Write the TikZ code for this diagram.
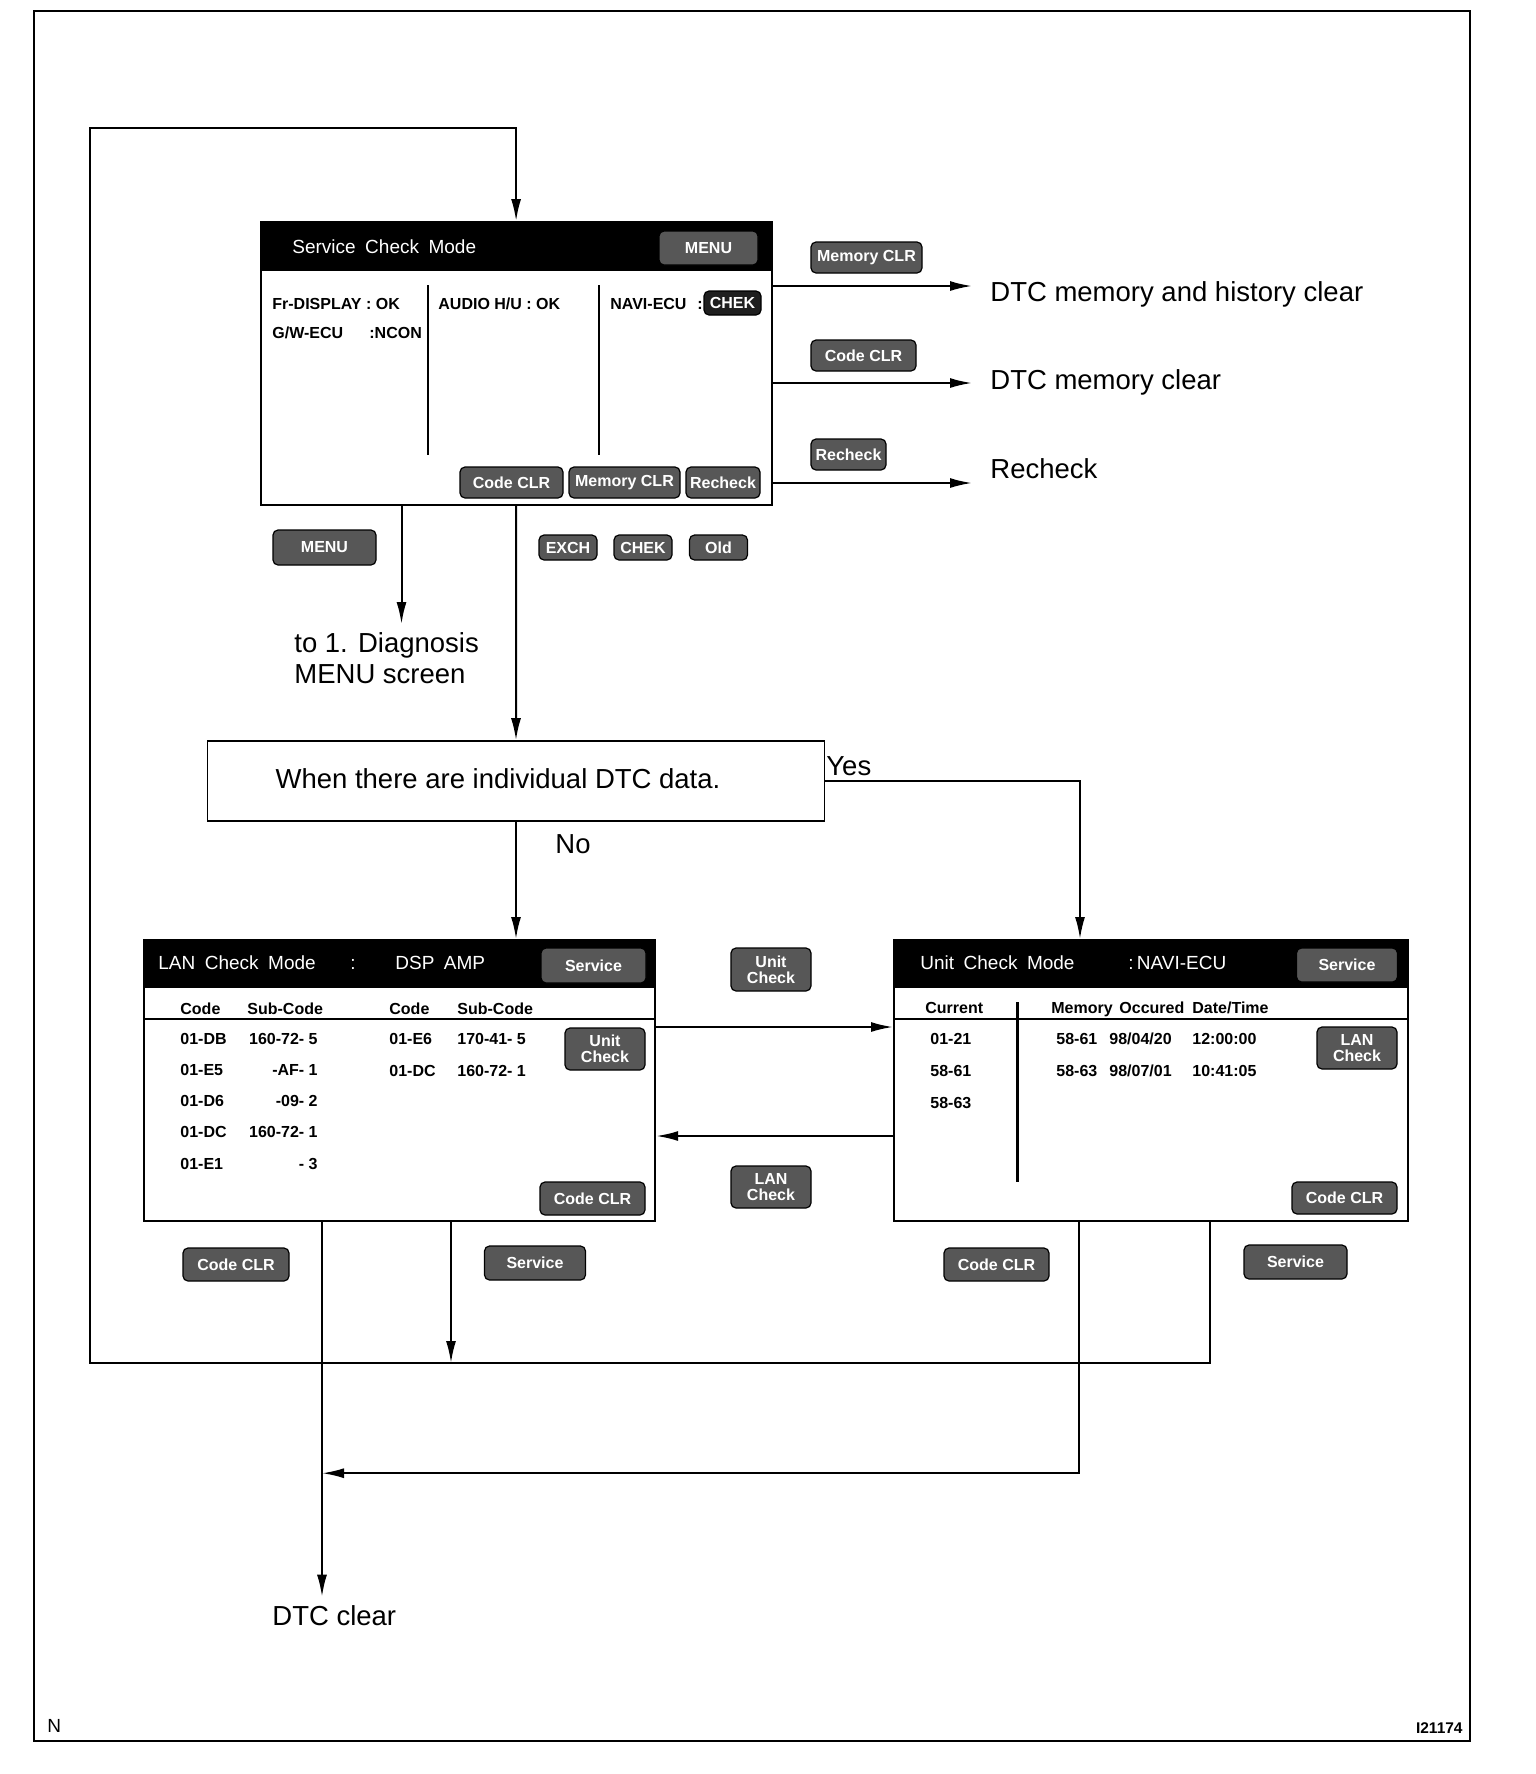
\documentclass[tikz,border=0pt]{standalone}
\usepackage{fontspec}
\setmainfont{Liberation Sans}
\usetikzlibrary{arrows.meta,positioning}

\tikzset{
  screen/.style={draw, line width=1.1pt, inner sep=0pt, anchor=north west},
  btn/.style={draw=black, line width=0.6pt, fill=black!66, rounded corners=2.5pt,
      text=white, font=\bfseries\fontsize{8}{8}\selectfont, inner sep=0pt, align=center},
  darkbtn/.style={btn, fill=black!88},
  hdr/.style={text=white, font={\fontsize{9.5}{11}\selectfont\spaceskip=0.5em plus 0.1em\relax},
      inner sep=0pt, anchor=base west},
  scr/.style={font=\bfseries\fontsize{8}{9.6}\selectfont, inner sep=0pt, anchor=base west},
  lbl/.style={font=\fontsize{13.75}{15.5}\selectfont, inner xsep=0pt, inner ysep=4pt},
  rlbl/.style={lbl, inner xsep=9pt, anchor=base west},
  conn/.style={line width=1pt},
  arr/.style={conn, -{Latex[length=11pt,width=5pt]}},
}

\begin{document}
\begin{tikzpicture}[x=0.5pt, y=-0.5pt]
\useasboundingbox (0,0) rectangle (1536,1774);
\draw[line width=1.4pt] (34,11) rectangle (1470,1741);
\node[anchor=base west, inner sep=0pt, font=\fontsize{9.5}{11}\selectfont] (nmark) at (47,1732) {N};
\node[anchor=base east, inner sep=0pt, font=\bfseries\fontsize{7.75}{9}\selectfont] (figno) at (1463,1733) {I21174};

% service check mode screen
\node[screen, minimum width=255.5pt, minimum height=141.5pt] (svc) at (259.5,221) {};
\fill (svc.north west) rectangle ([yshift=-25pt]svc.north east);
\node[hdr] (svctitle) at (292,253) {Service Check Mode};
\node[btn, minimum width=49.5pt, minimum height=17pt] (svcmenu) at (708.5,248) {MENU};
\draw[line width=1pt] (428,285) -- (428,455) (599,285) -- (599,455);
\node[scr] (frdisp) at (272,309) {Fr-DISPLAY : OK};
\node[scr] (gwecu) at (272,338) {G/W-ECU};
\node[scr] (gwstat) at (369,338) {:NCON};
\node[scr] (audio) at (438,309) {AUDIO H/U : OK};
\node[scr] (navi) at (610,309) {NAVI-ECU};
\node[scr] (navicol) at (697,309) {:};
\node[darkbtn, minimum width=28.5pt, minimum height=12pt] (navichek) at (732.5,303) {CHEK};
\node[btn, minimum width=51.5pt, minimum height=15.5pt] (svccode) at (511.5,482.5) {Code CLR};
\node[btn, minimum width=55.5pt, minimum height=15.5pt] (svcmem) at (624.5,482.5) {Memory CLR};
\node[btn, minimum width=37pt, minimum height=15.5pt] (svcrech) at (723,482.5) {Recheck};

% results to the right
\node[rlbl] (histclr) at (972,301) {DTC memory and history clear};
\node[rlbl] (memclr) at (972,389) {DTC memory clear};
\node[rlbl] (rechk) at (972,478) {Recheck};
\coordinate (r1) at ([yshift=-32.5pt]svc.north east);
\coordinate (r2) at ([yshift=-81pt]svc.north east);
\coordinate (r3) at ([yshift=-131pt]svc.north east);
\draw[arr] (r1) -- (r1 -| histclr.west);
\draw[arr] (r2) -- (r2 -| memclr.west);
\draw[arr] (r3) -- (r3 -| rechk.west);
\node[btn, minimum width=55.5pt, minimum height=15.5pt] (memkey) at (866.5,257.5) {Memory CLR};
\node[btn, minimum width=52.5pt, minimum height=15.5pt] (codekey) at (863.5,355.5) {Code CLR};
\node[btn, minimum width=37.5pt, minimum height=15.5pt] (rechkey) at (848.5,454.5) {Recheck};

% down from the service screen
\node[btn, minimum width=51.5pt, minimum height=17.5pt] (menukey) at (324.5,547.5) {MENU};
\node[lbl, anchor=north west, align=left] (diag) at (294,624) {to 1. Diagnosis\\MENU screen};
\coordinate (menudrop) at ([xshift=71pt]svc.south west);
\draw[arr] (menudrop) -- (menudrop |- diag.north);
\node[btn, minimum width=29pt, minimum height=12.5pt] (exchkey) at (568,547.5) {EXCH};
\node[btn, minimum width=29pt, minimum height=12.5pt] (chekkey) at (643,547.5) {CHEK};
\node[btn, minimum width=29pt, minimum height=12.5pt] (oldkey) at (718.5,547.5) {Old};

% decision
\node[draw, line width=0.8pt, minimum width=308.5pt, minimum height=40pt, inner sep=0pt,
  font=\fontsize{13.75}{15.5}\selectfont] (dec) at (516,781) {\kern-18pt\raisebox{2pt}{When there are individual DTC data.}};
\draw[arr] (svc.south) -- (dec.north);
\node[lbl, anchor=base west, inner sep=0pt] (yes) at (826,775) {Yes};
\node[lbl, anchor=base west, inner sep=0pt] (no) at (555,853) {No};

% LAN check mode screen
\node[screen, minimum width=255.5pt, minimum height=140.5pt] (lan) at (143,939) {};
\fill (lan.north west) rectangle ([yshift=-24.5pt]lan.north east);
\draw[line width=1pt] (143,1019) -- (654,1019);
\node[hdr] (lantitle) at (158,969) {LAN Check Mode};
\node[hdr] (lancol) at (350,969) {:};
\node[hdr] (lanunit) at (395,969) {DSP AMP};
\node[btn, minimum width=52.5pt, minimum height=17.5pt] (lanserv) at (593.5,965.5) {Service};
\node[scr] (lanh1) at (180,1014) {Code};
\node[scr] (lanh2) at (247,1014) {Sub-Code};
\node[scr] (lanh3) at (389,1014) {Code};
\node[scr] (lanh4) at (457,1014) {Sub-Code};
\foreach \cd/\sub [count=\i] in {01-DB/160-72- 5, 01-E5/-AF- 1, 01-D6/-09- 2, 01-DC/160-72- 1, 01-E1/- 3} {
  \node[scr] (lanc\i) at (180,{1044+31.25*(\i-1)}) {\cd};
  \node[scr, anchor=base east] (lans\i) at (318,{1044+31.25*(\i-1)}) {\sub};
}
\node[scr] (lanc6) at (389,1044) {01-E6};
\node[scr] (lans6) at (457,1044) {170-41- 5};
\node[scr] (lanc7) at (389,1076) {01-DC};
\node[scr] (lans7) at (457,1076) {160-72- 1};
\node[btn, minimum width=40pt, minimum height=21pt] (lanunitkey) at (605,1049) {Unit\\Check};
\node[btn, minimum width=52.5pt, minimum height=16.5pt] (lancode) at (592.5,1198.5) {Code CLR};

% unit check mode screen
\node[screen, minimum width=257pt, minimum height=140.5pt] (unit) at (893,939) {};
\fill (unit.north west) rectangle ([yshift=-24.5pt]unit.north east);
\draw[line width=1pt] (893,1019) -- (1407,1019);
\draw[line width=1.5pt] (1017.5,1002) -- (1017.5,1182);
\node[hdr] (unittitle) at (920,969) {Unit Check Mode};
\node[hdr] (unitecu) at (1128,969) {:\,NAVI-ECU};
\node[btn, minimum width=50.5pt, minimum height=17pt] (unitserv) at (1347,965) {Service};
\node[scr] (curh) at (925,1013) {Current};
\node[scr] (memh) at (1051,1013) {Memory};
\node[scr] (occh) at (1119,1013) {Occured};
\node[scr] (dth) at (1192,1013) {Date/Time};
\foreach \cur [count=\i] in {01-21, 58-61, 58-63} {
  \node[scr] (cur\i) at (930,{1044+32*(\i-1)}) {\cur};
}
\node[scr] (mem1) at (1056,1044) {58-61};
\node[scr] (occ1) at (1109,1044) {98/04/20};
\node[scr] (dt1) at (1192,1044) {12:00:00};
\node[scr] (mem2) at (1056,1076) {58-63};
\node[scr] (occ2) at (1109,1076) {98/07/01};
\node[scr] (dt2) at (1192,1076) {10:41:05};
\node[btn, minimum width=40pt, minimum height=21pt] (unitlankey) at (1357,1048) {LAN\\Check};
\node[btn, minimum width=52.5pt, minimum height=16pt] (unitcode) at (1344.5,1198) {Code CLR};

\draw[arr] (dec.east) -| ([xshift=93.5pt]unit.north west);
\draw[arr] (dec.south) -- (dec.south |- lan.north);

% between the two screens
\coordinate (tounit) at ([yshift=-44pt]lan.north east);
\coordinate (tolan) at ([yshift=-98.5pt]unit.north west);
\draw[arr] (tounit) -- (tounit -| unit.west);
\draw[arr] (tolan) -- (tolan -| lan.east);
\node[btn, minimum width=40pt, minimum height=21.5pt] (midunit) at (771,969.5) {Unit\\Check};
\node[btn, minimum width=40pt, minimum height=21pt] (midlan) at (771,1187) {LAN\\Check};

% bottom part
\node[lbl, anchor=base west] (dtcclr) at (272,1625) {DTC clear};
\coordinate (clrx) at ([xshift=89.5pt]lan.south west);
\coordinate (svcjoin) at ([xshift=154pt]lan.south west);
\coordinate (clrjoin) at ([xshift=93pt]unit.south west);
\coordinate (loopr) at ([xshift=158.5pt]unit.south west);
\coordinate (clrmeet) at ([yshift=-125.5pt]clrx);
\coordinate (loopbot) at (90,1363);
\coordinate (looptop) at (90,128);
\draw[arr] (clrx) -- (clrx |- dtcclr.north);
\draw[arr] (svcjoin) -- (svcjoin |- loopbot);
\draw[arr] (clrjoin) |- (clrmeet);
\draw[arr] (loopr) |- (loopbot) -- (looptop) -| (svc.north);
\node[btn, minimum width=53pt, minimum height=16.5pt] (lanclrkey) at (236,1264.5) {Code CLR};
\node[btn, minimum width=50.5pt, minimum height=17pt] (lanservkey) at (535,1263) {Service};
\node[btn, minimum width=52.5pt, minimum height=16.5pt] (unitclrkey) at (996.5,1264.5) {Code CLR};
\node[btn, minimum width=51.5pt, minimum height=17pt] (unitservkey) at (1295.5,1262) {Service};
\end{tikzpicture}
\end{document}
